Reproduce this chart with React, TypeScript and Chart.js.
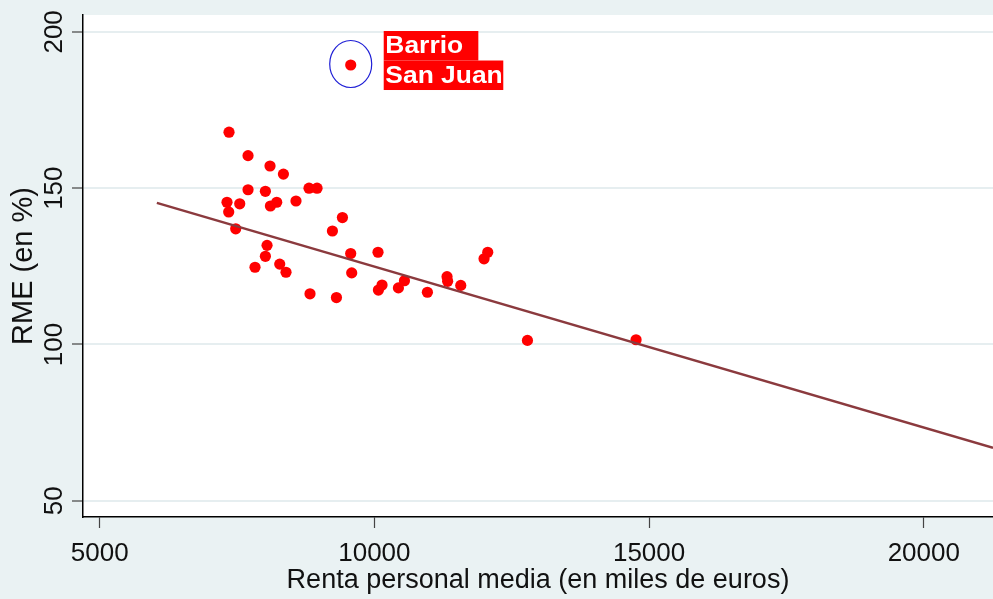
import React, { useEffect, useRef } from "react";
import { Chart, registerables } from "chart.js";

Chart.register(...registerables);

// Renta personal media (euros) and RME (%) per barrio
const renta = [
  7354, 7700, 8100, 8344, 7700, 8016, 8810, 8956, 7317, 7348,
  7549, 8107, 8222, 8573, 7476, 8046, 8016, 7827, 8277, 8391,
  8828, 9236, 9309, 9418, 9569, 9587, 10066, 10073, 10139, 10437,
  10547, 10965, 11322, 11333, 11572, 11996, 12063, 12786, 14763,
];
const rme = [
  167.9, 160.4, 157.1, 154.5, 149.5, 149.0, 150.0, 150.0, 145.5, 142.4,
  145.0, 144.3, 145.5, 145.9, 137.0, 131.7, 128.2, 124.7, 125.7, 123.1,
  116.2, 136.3, 115.0, 140.6, 129.1, 122.9, 129.5, 117.4, 119.0, 118.1,
  120.4, 116.7, 121.7, 120.2, 118.9, 127.4, 129.5, 101.3, 101.5,
];

// Highlighted barrio
const sanJuanRenta = [9569];
const sanJuanRme = [189.4];
const sanJuanLabel = ["Barrio", "San Juan"];

// Linear fit endpoints
const fitX = [6040, 21260];
const fitY = [145.3, 66.9];

const xTicks = [5000, 10000, 15000, 20000];
const yTicks = [50, 100, 150, 200];

const xTitle = "Renta personal media (en miles de euros)";
const yTitle = "RME (en %)";

const FONT = "'Liberation Sans', Arial, sans-serif";
const FONT_NARROW = "'Liberation Sans Narrow', 'Liberation Sans', Arial, sans-serif";

export default function App() {
  const ref = useRef<HTMLCanvasElement | null>(null);

  useEffect(() => {
    document.body.style.margin = "0";
    const canvas = ref.current;
    if (!canvas) return;

    const bgPlugin = {
      id: "bgPlugin",
      beforeDraw(chart: any) {
        const { ctx, chartArea } = chart;
        ctx.save();
        ctx.fillStyle = "#eaf2f3";
        ctx.fillRect(0, 0, chart.width, chart.height);
        ctx.fillStyle = "#ffffff";
        ctx.fillRect(chartArea.left, chartArea.top, chartArea.right - chartArea.left, chartArea.bottom - chartArea.top);
        ctx.restore();
      },
    };

    const annotPlugin = {
      id: "annotPlugin",
      afterDatasetsDraw(chart: any) {
        const meta = chart.getDatasetMeta(2);
        if (!meta || !meta.data[0]) return;
        const { x, y } = meta.data[0];
        const ctx = chart.ctx;
        ctx.save();
        // ellipse
        ctx.beginPath();
        ctx.ellipse(x, y - 1, 21, 23.5, 0, 0, Math.PI * 2);
        ctx.strokeStyle = "#1f1fd6";
        ctx.lineWidth = 1.2;
        ctx.stroke();
        // label
        const lx = x + 33;
        const top = y - 34;
        const lh = 29.5;
        const sx = 1.1;
        ctx.translate(lx, top);
        ctx.scale(sx, 1);
        ctx.font = `bold 24px ${FONT}`;
        ctx.textBaseline = "middle";
        ctx.textAlign = "left";
        sanJuanLabel.forEach((line, i) => {
          const w = ctx.measureText(line + (i === 0 ? "  " : "")).width + 2;
          ctx.fillStyle = "#ff0000";
          ctx.fillRect(0, i * lh, w, lh);
          ctx.fillStyle = "#ffffff";
          ctx.fillText(line, 1.5, i * lh + lh / 2 + 1);
        });
        ctx.restore();
      },
    };

    const chart = new Chart(canvas, {
      type: "scatter",
      data: {
        datasets: [
          {
            type: "line",
            label: "fit",
            data: fitX.map((v, i) => ({ x: v, y: fitY[i] })),
            borderColor: "#8b3a3e",
            borderWidth: 2.5,
            pointRadius: 0,
            fill: false,
            order: 0,
          },
          {
            label: "barrios",
            data: renta.map((v, i) => ({ x: v, y: rme[i] })),
            backgroundColor: "#ff0000",
            borderColor: "#ff0000",
            borderWidth: 0,
            pointRadius: 5.6,
            order: 1,
          },
          {
            label: "San Juan",
            data: sanJuanRenta.map((v, i) => ({ x: v, y: sanJuanRme[i] })),
            backgroundColor: "#ff0000",
            borderColor: "#ff0000",
            borderWidth: 0,
            pointRadius: 5.6,
            order: 2,
          },
        ],
      },
      options: {
        responsive: false,
        animation: false,
        events: [],
        layout: { autoPadding: false, padding: { top: 15, right: 0, left: 0, bottom: 0 } },
        plugins: {
          legend: { display: false },
          tooltip: { enabled: false },
        },
        scales: {
          x: {
            type: "linear",
            min: 4696,
            max: 21260,
            afterBuildTicks: (s: any) => {
              s.ticks = xTicks.map((v) => ({ value: v }));
            },
            afterFit: (s: any) => {
              s.height = 82;
            },
            border: { display: true, color: "#000000", width: 1.5 },
            grid: {
              drawOnChartArea: false,
              drawTicks: true,
              tickLength: 11,
              tickColor: "#444444",
              tickWidth: 1.2,
            },
            ticks: {
              autoSkip: false,
              maxRotation: 0,
              minRotation: 0,
              padding: 10,
              color: "#111111",
              font: { family: FONT, size: 26 },
              callback: (v: any) => String(v),
            },
            title: {
              display: true,
              text: xTitle,
              color: "#111111",
              font: { family: FONT, size: 27 },
              padding: { top: 0, bottom: 2 },
            },
          },
          y: {
            type: "linear",
            min: 44.8,
            max: 205.4,
            afterBuildTicks: (s: any) => {
              s.ticks = yTicks.map((v) => ({ value: v }));
            },
            afterFit: (s: any) => {
              s.width = 83;
            },
            border: { display: true, color: "#000000", width: 1.5 },
            grid: {
              drawOnChartArea: true,
              color: "#e6eef0",
              lineWidth: 2,
              drawTicks: true,
              tickLength: 11,
              tickColor: "#444444",
              tickWidth: 1.2,
            },
            ticks: {
              autoSkip: false,
              minRotation: 90,
              maxRotation: 90,
              crossAlign: "center",
              padding: -5,
              color: "#111111",
              font: { family: FONT_NARROW, size: 26 },
              callback: (v: any) => String(v),
            },
            title: {
              display: true,
              text: yTitle,
              color: "#111111",
              font: { family: FONT, size: 29 },
              padding: { top: 7, bottom: 0 },
            },
          },
        },
      },
      plugins: [bgPlugin, annotPlugin],
    } as any);

    return () => chart.destroy();
  }, []);

  return (
    <div style={{ width: 993, height: 599 }}>
      <canvas ref={ref} width={993} height={599} style={{ display: "block" }} />
    </div>
  );
}
